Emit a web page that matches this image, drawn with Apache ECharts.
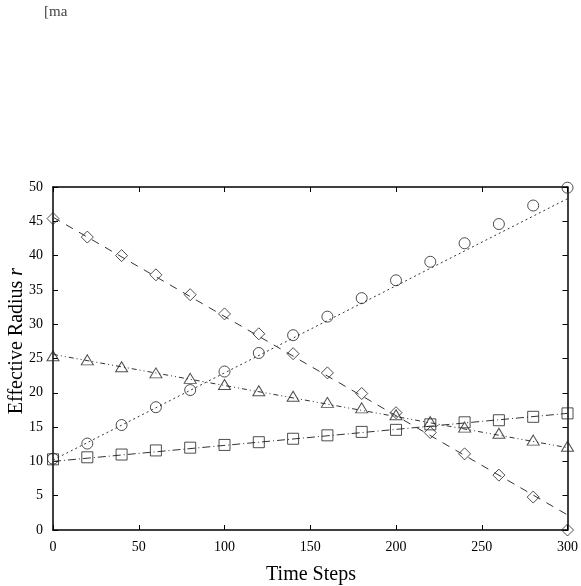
<!DOCTYPE html>
<html>
<head>
<meta charset="utf-8">
<script src="https://cdn.jsdelivr.net/npm/echarts@6/dist/echarts.min.js"></script>
<style>
  html, body { margin: 0; padding: 0; background: #fff; }
  #chart { width: 581px; height: 586px; }
</style>
</head>
<body>
<div id="chart"></div>
<script>
// time steps of the sampled points
const steps = [0, 20, 40, 60, 80, 100, 120, 140, 160, 180, 200, 220, 240, 260, 280, 300]

// marker values
const circleVals = [10.4, 12.6, 15.3, 17.9, 20.4, 23.1, 25.8, 28.4, 31.1, 33.8, 36.4, 39.1, 41.8, 44.6, 47.3, 49.9]
const diamondVals = [45.4, 42.7, 40.0, 37.2, 34.3, 31.5, 28.6, 25.7, 22.9, 19.9, 17.1, 14.2, 11.1, 8.0, 4.8, 0.0]
const triangleVals = [25.4, 24.8, 23.8, 22.9, 22.1, 21.2, 20.3, 19.5, 18.6, 17.8, 16.8, 15.8, 15.0, 14.1, 13.1, 12.2]
const squareVals = [10.3, 10.6, 11.0, 11.6, 12.0, 12.4, 12.8, 13.3, 13.8, 14.3, 14.6, 15.4, 15.7, 16.0, 16.5, 17.0]

// straight fit lines, end points at step 0 and step 300
const fitSteps = [0, 300]
const circleFit = [10.2, 48.3]
const diamondFit = [45.6, 2.2]
const triangleFit = [25.6, 12.0]
const squareFit = [10.0, 17.0]

const xTicks = [0, 50, 100, 150, 200, 250, 300]
const yTicks = [0, 5, 10, 15, 20, 25, 30, 35, 40, 45, 50]

const pairs = (xs, ys) => xs.map((x, i) => [x, ys[i]])

const chart = echarts.init(document.getElementById('chart'), null, { renderer: 'canvas' })

const fontFamily = '"Liberation Serif", "DejaVu Serif", serif'

function fitLine(name, vals, dash) {
  return {
    name: name,
    type: 'line',
    data: pairs(fitSteps, vals),
    symbol: 'none',
    silent: true,
    z: 2,
    lineStyle: { color: '#333', width: 1, type: dash }
  }
}

function markers(name, vals, symbol, size) {
  return {
    name: name,
    type: 'scatter',
    data: pairs(steps, vals),
    symbol: symbol,
    symbolSize: size,
    clip: false,
    z: 3,
    itemStyle: { color: 'rgba(0,0,0,0)', borderColor: '#222', borderWidth: 1 }
  }
}

const axisCommon = {
  type: 'value',
  axisLine: { show: true, onZero: false, lineStyle: { color: '#000', width: 1.5 } },
  axisTick: { show: true, inside: true, length: 5, lineStyle: { color: '#000', width: 1 } },
  splitLine: { show: false }
}

chart.setOption({
  animation: false,
  backgroundColor: '#fff',
  title: {
    text: '[ma',
    left: 44,
    top: 5,
    padding: 0,
    textStyle: { fontFamily: fontFamily, fontSize: 15, fontWeight: 'normal', color: '#444' }
  },
  grid: { left: 53, right: 11, top: 187, bottom: 56 },
  xAxis: [
    Object.assign({}, axisCommon, {
      position: 'bottom',
      min: xTicks[0],
      max: xTicks[xTicks.length - 1],
      interval: 50,
      axisLabel: { margin: 10, fontFamily: fontFamily, fontSize: 14, color: '#000' }
    }),
    Object.assign({}, axisCommon, {
      position: 'top',
      min: xTicks[0],
      max: xTicks[xTicks.length - 1],
      interval: 50,
      axisLabel: { show: false }
    })
  ],
  yAxis: [
    Object.assign({}, axisCommon, {
      position: 'left',
      min: yTicks[0],
      max: yTicks[yTicks.length - 1],
      interval: 5,
      axisLabel: { margin: 10, fontFamily: fontFamily, fontSize: 14, color: '#000' }
    }),
    Object.assign({}, axisCommon, {
      position: 'right',
      min: yTicks[0],
      max: yTicks[yTicks.length - 1],
      interval: 5,
      axisLabel: { show: false }
    })
  ],
  graphic: [
    {
      type: 'text',
      x: 311,
      y: 575,
      style: {
        text: 'Time Steps',
        align: 'center',
        verticalAlign: 'middle',
        font: '20px ' + fontFamily,
        fill: '#000'
      }
    },
    {
      type: 'text',
      x: 17,
      y: 341,
      rotation: Math.PI / 2,
      style: {
        text: '{a|Effective Radius }{b|r}',
        align: 'center',
        verticalAlign: 'middle',
        rich: {
          a: { fontFamily: fontFamily, fontSize: 20, fill: '#000' },
          b: { fontFamily: fontFamily, fontSize: 20, fontStyle: 'italic', fill: '#000' }
        }
      }
    }
  ],
  series: [
    fitLine('circle fit', circleFit, [2, 3]),
    fitLine('diamond fit', diamondFit, [8, 7]),
    fitLine('triangle fit', triangleFit, [5, 3, 1, 3, 1, 3]),
    fitLine('square fit', squareFit, [8, 3, 1, 3]),
    markers('circle', circleVals, 'circle', 11),
    markers('diamond', diamondVals, 'diamond', [12, 12]),
    markers('triangle', triangleVals, 'triangle', [12, 10]),
    markers('square', squareVals, 'rect', 11)
  ]
})
</script>
</body>
</html>
